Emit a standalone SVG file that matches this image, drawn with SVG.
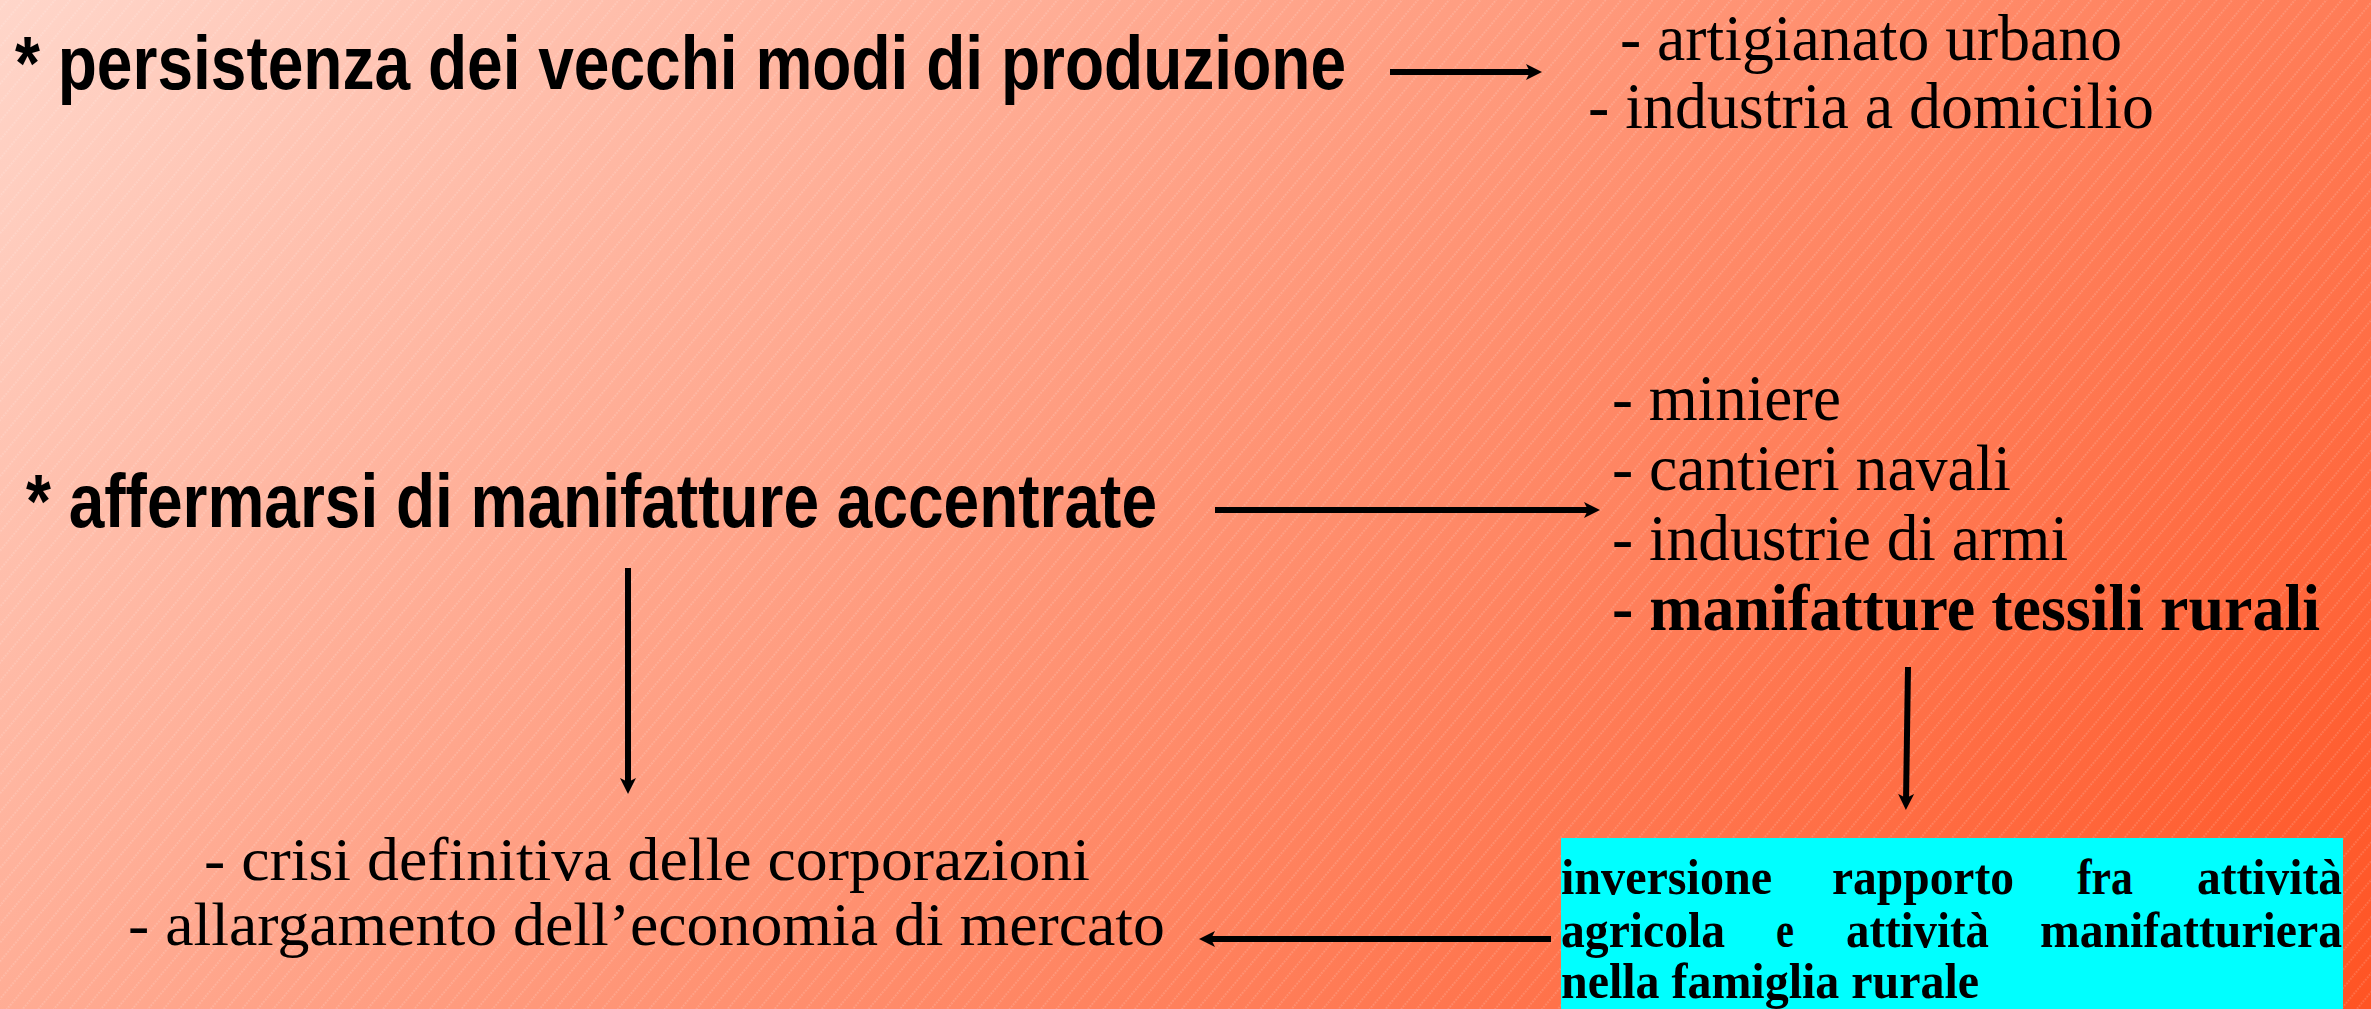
<svg xmlns="http://www.w3.org/2000/svg" width="2371" height="1009" viewBox="0 0 2371 1009">
  <defs>
    <linearGradient id="bg" gradientUnits="userSpaceOnUse" x1="0" y1="0" x2="1597" y2="1715">
      <stop offset="0" stop-color="#FFD6CA"/>
      <stop offset="0.5" stop-color="#FF9475"/>
      <stop offset="1" stop-color="#FF5424"/>
    </linearGradient>
    <pattern id="hatch" patternUnits="userSpaceOnUse" width="12" height="12" patternTransform="rotate(40)">
      <line x1="6" y1="0" x2="6" y2="12" stroke="#FFFFFF" stroke-opacity="0.35" stroke-width="1" stroke-dasharray="1.5 1.5"/>
    </pattern>
    <marker id="head" markerUnits="userSpaceOnUse" markerWidth="22" markerHeight="22" viewBox="0 -11 22 22" refX="8" refY="0" orient="auto">
      <path d="M0,-8 L16,0 L0,8 L4,0 Z" fill="#000"/>
    </marker>
    <style>
      .title { font-family: "Liberation Sans", Arial, sans-serif; font-weight: bold; font-size: 76px; fill: #000; }
      .item { font-family: "Liberation Serif", "Times New Roman", serif; font-size: 66px; fill: #000; }
      .itemb { font-family: "Liberation Serif", "Times New Roman", serif; font-size: 66px; font-weight: bold; fill: #000; }
      .item2 { font-family: "Liberation Serif", "Times New Roman", serif; font-size: 61px; fill: #000; }
      .box { font-family: "Liberation Serif", "Times New Roman", serif; font-size: 50px; font-weight: bold; fill: #000; }
      .conn { stroke: #000; stroke-width: 6; fill: none; marker-end: url(#head); }
    </style>
  </defs>

  <rect x="0" y="0" width="2371" height="1009" fill="url(#bg)"/>
  <rect x="0" y="0" width="2371" height="1009" fill="url(#hatch)"/>

  <g id="node-persistenza">
    <text class="title" x="15" y="89" textLength="1331" lengthAdjust="spacingAndGlyphs">* persistenza dei vecchi modi di produzione</text>
  </g>

  <g id="node-vecchi-modi">
    <text class="item" x="1620" y="60" textLength="502" lengthAdjust="spacingAndGlyphs">- artigianato urbano</text>
    <text class="item" x="1588" y="128" textLength="566" lengthAdjust="spacingAndGlyphs">- industria a domicilio</text>
  </g>

  <g id="node-affermarsi">
    <text class="title" x="26" y="527" textLength="1131" lengthAdjust="spacingAndGlyphs">* affermarsi di manifatture accentrate</text>
  </g>

  <g id="node-manifatture">
    <text class="item" x="1612" y="420" textLength="229" lengthAdjust="spacingAndGlyphs">- miniere</text>
    <text class="item" x="1612" y="490" textLength="399" lengthAdjust="spacingAndGlyphs">- cantieri navali</text>
    <text class="item" x="1612" y="560" textLength="456" lengthAdjust="spacingAndGlyphs">- industrie di armi</text>
    <text class="itemb" x="1612" y="630" textLength="708" lengthAdjust="spacingAndGlyphs">- manifatture tessili rurali</text>
  </g>

  <g id="node-crisi">
    <text class="item2" x="204" y="880" textLength="886" lengthAdjust="spacingAndGlyphs">- crisi definitiva delle corporazioni</text>
    <text class="item2" x="128" y="945" textLength="1037" lengthAdjust="spacingAndGlyphs">- allargamento dell’economia di mercato</text>
  </g>

  <g id="node-inversione">
    <rect x="1561" y="838" width="782" height="171" fill="#00FFFF"/>
    <text class="box" x="1561" y="894" textLength="211" lengthAdjust="spacingAndGlyphs">inversione</text>
    <text class="box" x="1832" y="894" textLength="182" lengthAdjust="spacingAndGlyphs">rapporto</text>
    <text class="box" x="2077" y="894" textLength="56" lengthAdjust="spacingAndGlyphs">fra</text>
    <text class="box" x="2197" y="894" textLength="145" lengthAdjust="spacingAndGlyphs">attività</text>
    <text class="box" x="1561" y="947" textLength="164" lengthAdjust="spacingAndGlyphs">agricola</text>
    <text class="box" x="1776" y="947" textLength="18" lengthAdjust="spacingAndGlyphs">e</text>
    <text class="box" x="1846" y="947" textLength="143" lengthAdjust="spacingAndGlyphs">attività</text>
    <text class="box" x="2040" y="947" textLength="302" lengthAdjust="spacingAndGlyphs">manifatturiera</text>
    <text class="box" x="1561" y="998" textLength="418" lengthAdjust="spacingAndGlyphs">nella famiglia rurale</text>
  </g>

  <g id="connectors">
    <line class="conn" x1="1390" y1="72" x2="1534" y2="72"/>
    <line class="conn" x1="1215" y1="510" x2="1592" y2="510"/>
    <line class="conn" x1="628" y1="568" x2="628" y2="786"/>
    <line class="conn" x1="1908" y1="667" x2="1906" y2="802"/>
    <line class="conn" x1="1551" y1="939" x2="1207" y2="939"/>
  </g>
</svg>
